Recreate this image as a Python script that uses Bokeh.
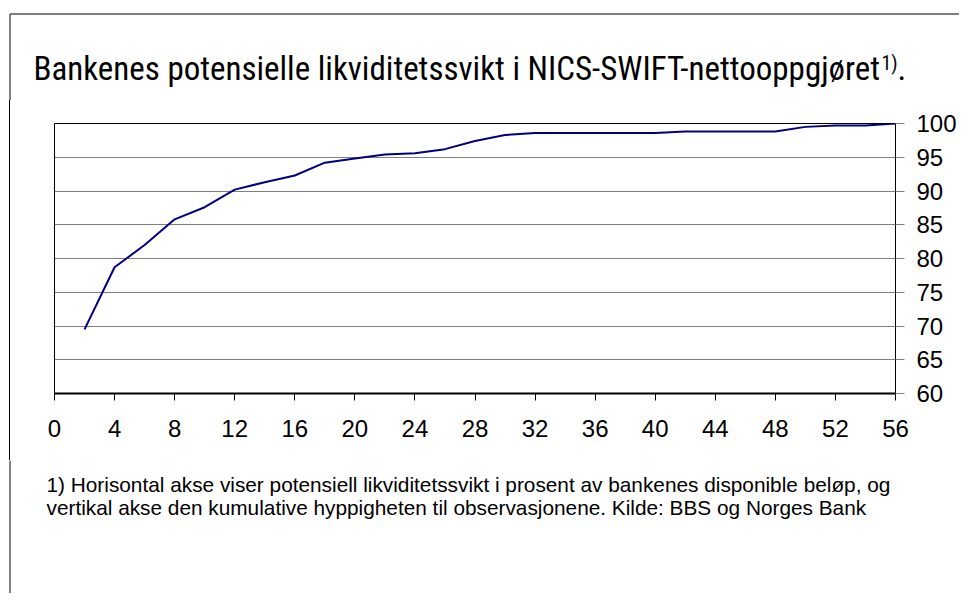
from bokeh.plotting import figure
from bokeh.models import Label, Range1d, FixedTicker, Div
from bokeh.layouts import column, row
from bokeh.embed import file_html
from bokeh.resources import INLINE

# ---- data ----
x_vals = [2, 4, 6, 8, 10, 12, 14, 16, 18, 20, 22, 24, 26, 28,
          30, 32, 34, 36, 38, 40, 42, 44, 46, 48, 50, 52, 54, 56]
y_vals = [69.5, 78.7, 82.0, 85.8, 87.6, 90.2, 91.3, 92.3, 94.2, 94.8, 95.4, 95.6, 96.2, 97.4,
          98.3, 98.6, 98.6, 98.6, 98.6, 98.6, 98.8, 98.8, 98.8, 98.8, 99.5, 99.7, 99.7, 100.0]
x_ticks = [0, 4, 8, 12, 16, 20, 24, 28, 32, 36, 40, 44, 48, 52, 56]
y_ticks = [60, 65, 70, 75, 80, 85, 90, 95, 100]

title_main = "Bankenes potensielle likviditetssvikt i NICS-SWIFT-nettooppgjøret"
title_sup = "1)"
title_end = "."
note_1 = "1) Horisontal akse viser potensiell likviditetssvikt i prosent av bankenes disponible beløp, og"
note_2 = "vertikal akse den kumulative hyppigheten til observasjonene. Kilde: BBS og Norges Bank"

SANS = "Liberation Sans"
COND = "Roboto Condensed"
W = 959
BORDER = "#000000"


def blank(width, height):
    """A figure whose frame fills the canvas, in pixel coordinates (y downwards)."""
    f = figure(width=width, height=height, output_backend="svg", toolbar_location=None,
               x_range=Range1d(0, width), y_range=Range1d(height, 0),
               x_axis_location=None, y_axis_location=None,
               min_border=0, min_border_left=0, min_border_right=0,
               min_border_top=0, min_border_bottom=0)
    f.grid.visible = False
    f.outline_line_color = None
    f.background_fill_color = "white"
    f.border_fill_color = "white"
    return f


# ---- title strip ----
t = blank(W, 100)
t.segment(x0=[9.5, 9.5], y0=[13.5, 13.5], x1=[W, 9.5], y1=[13.5, 100], line_color=BORDER, line_width=1)
t.add_layout(Label(x=33, y=67.5, text=title_main, text_font=COND, text_font_size="33px",
                   text_color="black", text_baseline="middle", text_align="left"))
t.add_layout(Label(x=881, y=62, text=title_sup, text_font=COND, text_font_size="20px",
                   text_color="black", text_baseline="middle", text_align="left"))
t.add_layout(Label(x=897, y=67.5, text=title_end, text_font=COND, text_font_size="33px",
                   text_color="black", text_baseline="middle", text_align="left"))

# ---- left border strip next to the chart ----
LW = 46
MH = 360
lf = Div(text="", width=LW, height=MH, margin=0,
         styles={"background": "linear-gradient(to right, #ffffff 9px, #000000 9px, #000000 10px, #ffffff 10px)"})

# ---- main chart ----
p = figure(width=W - LW, height=MH, output_backend="svg", toolbar_location=None,
           x_range=Range1d(0, 56), y_range=Range1d(60, 100),
           x_axis_location="below", y_axis_location="right",
           min_border_left=8, min_border_right=63, min_border_top=23, min_border_bottom=67)
p.background_fill_color = "white"
p.border_fill_color = "white"
p.outline_line_color = "black"
p.outline_line_width = 1

xa = p.xaxis[0]
xa.ticker = FixedTicker(ticks=x_ticks)
xa.axis_line_color = "black"
xa.axis_line_width = 2
xa.major_tick_out = 7
xa.major_tick_in = 0
xa.minor_tick_out = 0
xa.minor_tick_in = 0
xa.major_tick_line_color = "black"
xa.major_label_text_font = SANS
xa.major_label_text_font_size = "24px"
xa.major_label_text_color = "black"
xa.major_label_standoff = 19

ya = p.yaxis[0]
ya.ticker = FixedTicker(ticks=y_ticks)
ya.axis_line_color = "black"
ya.axis_line_width = 1
ya.major_tick_out = 9
ya.major_tick_in = 0
ya.minor_tick_out = 0
ya.minor_tick_in = 0
ya.major_tick_line_color = "#808080"
ya.major_label_text_font = SANS
ya.major_label_text_font_size = "24px"
ya.major_label_text_color = "black"
ya.major_label_standoff = 12

p.xgrid.grid_line_color = None
p.ygrid.ticker = FixedTicker(ticks=y_ticks)
p.ygrid.grid_line_color = "#808080"
p.ygrid.grid_line_width = 1

p.line(x_vals, y_vals, line_color="#000080", line_width=2)

# ---- footnote strip ----
FH = 133
fn = blank(W, FH)
fn.segment(x0=[9.5], y0=[0], x1=[9.5], y1=[FH], line_color=BORDER, line_width=1)
fn.add_layout(Label(x=46, y=24, text=note_1, text_font=SANS, text_font_size="20.8px",
                    text_color="black", text_baseline="middle", text_align="left"))
fn.add_layout(Label(x=46, y=47, text=note_2, text_font=SANS, text_font_size="20.8px",
                    text_color="black", text_baseline="middle", text_align="left"))

layout = column(t, row(lf, p, spacing=0), fn, spacing=0)

open("out.html", "w").write(file_html(layout, INLINE))
